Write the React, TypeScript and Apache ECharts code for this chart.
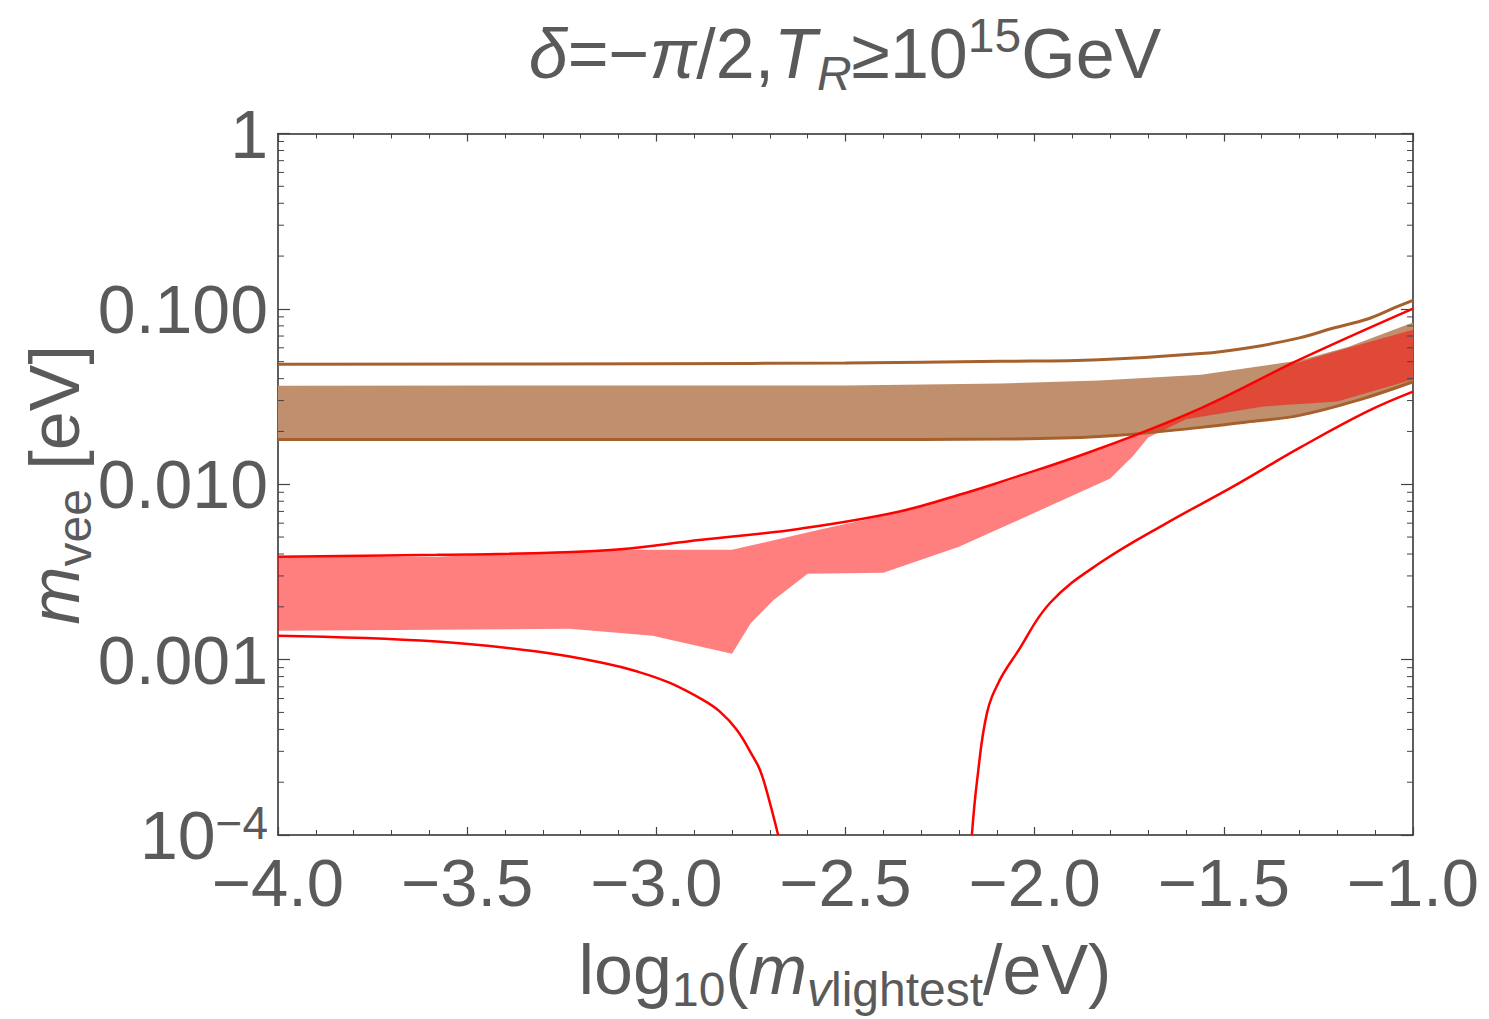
import React, { useEffect, useRef } from "react";
import * as echarts from "echarts";

// ---- data (x = log10(m_lightest/eV), y = m_ee in eV) ----
const ioUpperLine: [number, number][] = [
  [-4.0, 0.0484], [-3.0, 0.0487], [-2.5, 0.0492], [-2.09, 0.0502], [-1.83, 0.0513],
  [-1.56, 0.0556], [-1.43, 0.0603], [-1.3, 0.0683], [-1.21, 0.0778], [-1.12, 0.0876],
  [-1.05, 0.1012], [-1.0, 0.1119],
];
const ioLowerLine: [number, number][] = [
  [-4.0, 0.018], [-2.5, 0.018], [-2.09, 0.0181], [-1.83, 0.0187], [-1.56, 0.0211],
  [-1.43, 0.0228], [-1.3, 0.0247], [-1.14, 0.0304], [-1.0, 0.0384],
];
const ioBandTop: [number, number][] = [
  [-4.0, 0.0365], [-2.5, 0.0366], [-2.09, 0.0375], [-1.83, 0.039], [-1.56, 0.0421],
  [-1.3, 0.0507], [-1.17, 0.0609], [-1.0, 0.0835],
];
const noUpperLine: [number, number][] = [
  [-4.0, 0.00386], [-3.58, 0.00396], [-3.15, 0.00417], [-2.88, 0.00482], [-2.62, 0.00558],
  [-2.36, 0.00697], [-2.17, 0.0091], [-2.09, 0.0103], [-1.83, 0.01594], [-1.56, 0.0272],
  [-1.3, 0.0513], [-1.0, 0.1003],
];
const noLowerBranch1: [number, number][] = [
  [-4.0, 0.001367], [-3.58, 0.001268], [-3.315, 0.001111], [-3.14, 0.000957],
  [-3.05, 0.000855], [-2.964, 0.000736], [-2.877, 0.000589], [-2.832, 0.000505],
  [-2.787, 0.000397], [-2.744, 0.000279], [-2.726, 0.000235], [-2.707, 0.000174],
  [-2.678, 0.0001],
];
const noLowerBranch2: [number, number][] = [
  [-2.166, 0.0001], [-2.152, 0.000206], [-2.126, 0.000497], [-2.092, 0.000766],
  [-2.047, 0.001092], [-1.959, 0.00211], [-1.827, 0.003564], [-1.65, 0.006026],
  [-1.476, 0.009684], [-1.299, 0.01616], [-1.122, 0.02594], [-1.0, 0.03373],
];
const noBandTop: [number, number][] = [
  [-4.0, 0.00386], [-3.58, 0.00386], [-3.15, 0.00423], [-2.8, 0.00423], [-2.57, 0.0055],
  [-2.36, 0.0069], [-2.17, 0.009], [-2.09, 0.0101], [-1.83, 0.0157], [-1.56, 0.0268],
  [-1.33, 0.0475], [-1.17, 0.0601], [-1.0, 0.0761],
];
const noBandBottom: [number, number][] = [
  [-4.0, 0.00146], [-3.58, 0.00148], [-3.23, 0.0015], [-3.01, 0.00137], [-2.8, 0.00108],
  [-2.75, 0.00162], [-2.69, 0.00219], [-2.6, 0.00309], [-2.4, 0.00313], [-2.2, 0.0044],
  [-2.0, 0.00688], [-1.8, 0.0108], [-1.74, 0.0145], [-1.7, 0.0185], [-1.6, 0.0235],
  [-1.4, 0.0277], [-1.2, 0.0296], [-1.0, 0.0395],
];

const xTickLabels = ["−4.0", "−3.5", "−3.0", "−2.5", "−2.0", "−1.5", "−1.0"];
const yTickLabels = ["10{sup|−4}", "0.001", "0.010", "0.100", "1"];
const minorMultipliers = [2, 3, 4, 5, 6, 7, 8, 9];
const decades = [1e-4, 1e-3, 1e-2, 1e-1];

const FONT = '"Liberation Sans", Arial, sans-serif';
const TXT = "#5a5a5a";
const FRAME = "#2a2a2a";
const TICK = "#444";
const BROWN_LINE = "#a5602c";
const BROWN_FILL = "#c0906e";
const RED = "#ff0000";
const RED_FILL = "rgba(255,0,0,0.5)";

const polygonSeries = (top: [number, number][], bottom: [number, number][], fill: string) => ({
  type: "custom",
  coordinateSystem: "cartesian2d",
  silent: true,
  clip: true,
  data: [[-2.5, 0.01]],
  renderItem: (_p: any, api: any) => {
    const pts = [...top, ...bottom.slice().reverse()].map((d) => api.coord(d));
    return { type: "polygon", shape: { points: pts }, style: { fill, stroke: null } };
  },
  z: 2,
});

const lineSeries = (data: [number, number][], color: string, width: number) => ({
  type: "line",
  data,
  showSymbol: false,
  symbol: "none",
  smooth: 0.4,
  clip: true,
  silent: true,
  lineStyle: { color, width },
  z: 3,
});

const xAxisBase = (position: "top" | "bottom", showLabel: boolean) => ({
  type: "value",
  position,
  min: -4,
  max: -1,
  interval: 0.5,
  axisLine: { show: true, onZero: false, lineStyle: { color: FRAME, width: 1.5 } },
  axisTick: { show: true, inside: true, length: 8, lineStyle: { color: TICK, width: 1.2 } },
  minorTick: { show: true, splitNumber: 5, length: 5, lineStyle: { color: TICK, width: 1 } },
  splitLine: { show: false },
  minorSplitLine: { show: false },
  axisLabel: {
    show: showLabel,
    showMinLabel: true,
    showMaxLabel: true,
    margin: 12,
    fontSize: 67,
    lineHeight: 70,
    fontFamily: FONT,
    color: TXT,
    formatter: (v: number) => xTickLabels[Math.round((v + 4) / 0.5)] ?? "",
  },
});

const yAxisBase = (position: "left" | "right", showLabel: boolean) => ({
  type: "log",
  logBase: 10,
  position,
  min: 1e-4,
  max: 1,
  axisLine: { show: true, onZero: false, lineStyle: { color: FRAME, width: 1.5 } },
  axisTick: { show: true, inside: true, length: 12, lineStyle: { color: TICK, width: 1.2 } },
  splitLine: { show: false },
  minorTick: { show: false },
  axisLabel: {
    show: showLabel,
    showMinLabel: true,
    showMaxLabel: true,
    margin: 10,
    fontSize: 68,
    lineHeight: 70,
    fontFamily: FONT,
    color: TXT,
    formatter: (v: number) => yTickLabels[Math.round(Math.log10(v)) + 4] ?? "",
    rich: {
      sup: { fontSize: 46, lineHeight: 36, verticalAlign: "top", fontFamily: FONT, color: TXT },
    },
  },
});

export default function App() {
  const ref = useRef<HTMLDivElement>(null);
  useEffect(() => {
    if (!ref.current) return;
    const chart = echarts.init(ref.current, undefined, { renderer: "svg" });
    const minorValues = decades.flatMap((d) => minorMultipliers.map((m) => m * d));
    chart.setOption({
      animation: false,
      backgroundColor: "#ffffff",
      grid: { left: 278, right: 76, top: 133.5, bottom: 184 },
      xAxis: [xAxisBase("bottom", true), xAxisBase("top", false)],
      yAxis: [yAxisBase("left", true), yAxisBase("right", false)],
      graphic: [
        {
          type: "text",
          x: 845,
          y: 54,
          silent: true,
          style: {
            text: "{i|δ}=−{i|π}/2,{i|T}{sub|R}≥10{sup|15}GeV",
            fontSize: 70,
            lineHeight: 86,
            fontFamily: FONT,
            fill: TXT,
            align: "center",
            verticalAlign: "middle",
            rich: {
              i: { fontSize: 70, lineHeight: 86, fontStyle: "italic", fontFamily: FONT, fill: TXT },
              sub: { fontSize: 48, lineHeight: 50, verticalAlign: "bottom", fontStyle: "italic", fontFamily: FONT, fill: TXT },
              sup: { fontSize: 48, lineHeight: 42, verticalAlign: "top", fontFamily: FONT, fill: TXT },
            },
          },
        },
        {
          type: "text",
          x: 845,
          y: 970,
          silent: true,
          style: {
            text: "log{s|10}({i|m}{si|v}{s|lightest}/eV)",
            fontSize: 70,
            lineHeight: 86,
            fontFamily: FONT,
            fill: TXT,
            align: "center",
            verticalAlign: "middle",
            rich: {
              i: { fontSize: 70, lineHeight: 86, fontStyle: "italic", fontFamily: FONT, fill: TXT },
              s: { fontSize: 48, lineHeight: 50, verticalAlign: "bottom", fontFamily: FONT, fill: TXT },
              si: { fontSize: 48, lineHeight: 50, verticalAlign: "bottom", fontStyle: "italic", fontFamily: FONT, fill: TXT },
            },
          },
        },
        {
          type: "text",
          x: 55,
          y: 485,
          rotation: Math.PI / 2,
          silent: true,
          style: {
            text: "{i|m}{s|vee} [eV]",
            fontSize: 70,
            lineHeight: 86,
            fontFamily: FONT,
            fill: TXT,
            align: "center",
            verticalAlign: "middle",
            rich: {
              i: { fontSize: 70, lineHeight: 86, fontStyle: "italic", fontFamily: FONT, fill: TXT },
              s: { fontSize: 48, lineHeight: 50, verticalAlign: "bottom", fontFamily: FONT, fill: TXT },
            },
          },
        },
      ],
      series: [
        polygonSeries(ioBandTop, ioLowerLine, BROWN_FILL),
        polygonSeries(noBandTop, noBandBottom, RED_FILL),
        lineSeries(ioUpperLine, BROWN_LINE, 3),
        lineSeries(ioLowerLine, BROWN_LINE, 3),
        lineSeries(noUpperLine, RED, 2.5),
        lineSeries(noLowerBranch1, RED, 2.5),
        lineSeries(noLowerBranch2, RED, 2.5),
        {
          type: "custom",
          coordinateSystem: "cartesian2d",
          silent: true,
          clip: false,
          data: [[-2.5, 0.01]],
          z: 5,
          renderItem: (_p: any, api: any) => {
            const children: any[] = [];
            minorValues.forEach((v) => {
              const [xl, y] = api.coord([-4, v]);
              const [xr] = api.coord([-1, v]);
              children.push({ type: "line", shape: { x1: xl, y1: y, x2: xl + 6, y2: y }, style: { stroke: TICK, lineWidth: 1 } });
              children.push({ type: "line", shape: { x1: xr, y1: y, x2: xr - 6, y2: y }, style: { stroke: TICK, lineWidth: 1 } });
            });
            return { type: "group", children };
          },
        },
      ],
    });
    return () => chart.dispose();
  }, []);
  return (
    <div
      ref={ref}
      style={{ position: "absolute", left: 0, top: 0, width: 1489, height: 1019, background: "#fff" }}
    />
  );
}
